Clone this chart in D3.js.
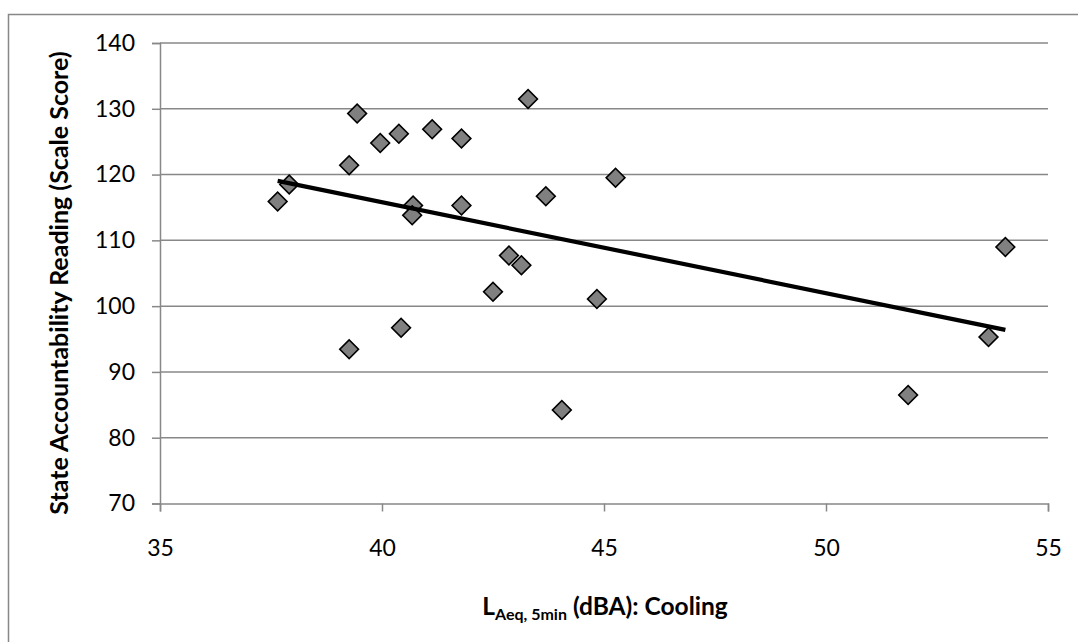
<!DOCTYPE html>
<html>
<head>
<meta charset="utf-8">
<script src="https://cdn.jsdelivr.net/npm/d3@7"></script>
<style>
  html, body { margin: 0; padding: 0; background: #fff; }
  svg { display: block; }
  text { font-family: Lato, "Open Sans", sans-serif; fill: #000; }
</style>
</head>
<body>
<svg id="chart" width="1078" height="642"></svg>
<script>
// ---- data ----
const noiseLevel = [37.65, 37.91, 39.44, 39.26, 39.96, 40.38, 41.13, 41.79, 43.29, 40.70, 40.68, 41.79,
                    43.69, 45.26, 42.86, 43.14, 42.50, 44.84, 39.26, 40.43, 44.05, 54.04, 53.66, 51.85];
const readingScore = [115.9, 118.5, 129.3, 121.4, 124.8, 126.2, 126.9, 125.5, 131.5, 115.3, 113.8, 115.3,
                      116.7, 119.5, 107.7, 106.2, 102.2, 101.1, 93.45, 96.7, 84.2, 109.0, 95.3, 86.5];
const xTicks = [35, 40, 45, 50, 55];
const yTicks = [70, 80, 90, 100, 110, 120, 130, 140];
const yTitle = "State Accountability Reading (Scale Score)";

// ---- layout ----
const svg = d3.select("#chart");
const plot = { left: 160, right: 1048, top: 43, bottom: 503.5 };
const gridColor = "#888888";
const tickFont = 23;

const x = d3.scaleLinear().domain([35, 55]).range([plot.left, plot.right]);
const y = d3.scaleLinear().domain([70, 140]).range([plot.bottom, plot.top]);

// outer chart border (right/bottom edges fall outside the picture)
svg.append("rect")
  .attr("x", 8.5).attr("y", 14.5).attr("width", 1100).attr("height", 700)
  .attr("fill", "none").attr("stroke", gridColor).attr("stroke-width", 1.5);

// horizontal gridlines
svg.append("g").selectAll("line").data(yTicks.filter(d => d !== 70)).join("line")
  .attr("x1", plot.left).attr("x2", plot.right)
  .attr("y1", d => y(d)).attr("y2", d => y(d))
  .attr("stroke", gridColor).attr("stroke-width", 1.5);

// y axis
const yAxis = svg.append("g")
  .attr("transform", `translate(${plot.left},0)`)
  .call(d3.axisLeft(y).tickValues(yTicks).tickSize(8).tickPadding(17).tickFormat(d3.format("d")));
yAxis.select(".domain").attr("stroke", gridColor).attr("stroke-width", 1.5);
yAxis.selectAll(".tick line").attr("stroke", gridColor).attr("stroke-width", 1.5);
yAxis.selectAll("text").attr("font-size", tickFont).attr("font-family", "Lato, 'Open Sans', sans-serif").attr("fill", "#000");

// x axis
const xAxis = svg.append("g")
  .attr("transform", `translate(0,${plot.bottom})`)
  .call(d3.axisBottom(x).tickValues(xTicks).tickSize(8).tickPadding(28).tickFormat(d3.format("d")));
xAxis.select(".domain").attr("stroke", gridColor).attr("stroke-width", 1.5);
xAxis.selectAll(".tick line").attr("stroke", gridColor).attr("stroke-width", 1.5);
xAxis.selectAll("text").attr("font-size", tickFont).attr("font-family", "Lato, 'Open Sans', sans-serif").attr("fill", "#000");

// linear trendline (least squares, drawn over the data range)
const pts = noiseLevel.map((v, i) => [v, readingScore[i]]);
const mx = d3.mean(noiseLevel), my = d3.mean(readingScore);
const sxy = d3.sum(pts, p => (p[0] - mx) * (p[1] - my));
const sxx = d3.sum(pts, p => (p[0] - mx) ** 2);
const slope = sxy / sxx, intercept = my - slope * mx;
const [xmin, xmax] = d3.extent(noiseLevel);

// markers
const diamond = d3.symbol().type(d3.symbolSquare).size(176);
svg.append("g").selectAll("path").data(pts).join("path")
  .attr("d", diamond)
  .attr("transform", d => `translate(${x(d[0])},${y(d[1])}) rotate(45)`)
  .attr("fill", "#808080").attr("stroke", "#000").attr("stroke-width", 1.6);

svg.append("line")
  .attr("x1", x(xmin)).attr("y1", y(slope * xmin + intercept))
  .attr("x2", x(xmax)).attr("y2", y(slope * xmax + intercept))
  .attr("stroke", "#000").attr("stroke-width", 4.2);

// y title
svg.append("text")
  .attr("transform", `translate(68,283) rotate(-90)`)
  .attr("text-anchor", "middle")
  .attr("font-size", 25).attr("font-weight", "bold")
  .text(yTitle);

// x title with subscript
const xt = svg.append("text")
  .attr("x", 605).attr("y", 615)
  .attr("text-anchor", "middle")
  .attr("font-size", 24.5).attr("font-weight", "bold");
xt.append("tspan").text("L");
xt.append("tspan").attr("font-size", 16).attr("dy", 5).text("Aeq, 5min");
xt.append("tspan").attr("dy", -5).text(" (dBA): Cooling");
</script>
</body>
</html>
